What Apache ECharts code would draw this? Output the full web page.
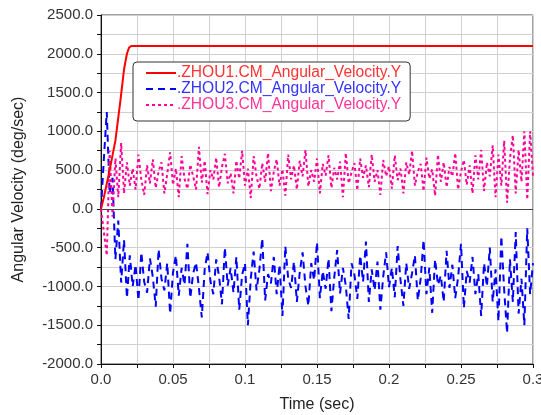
<!DOCTYPE html>
<html>
<head>
<meta charset="utf-8">
<script src="https://cdn.jsdelivr.net/npm/echarts@6/dist/echarts.min.js"></script>
<style>
  html, body { margin: 0; padding: 0; background: #fff; }
  #chart { width: 541px; height: 415px; }
</style>
</head>
<body>
<div id="chart"></div>
<script>
// Series names
const seriesNames = [
  '.ZHOU1.CM_Angular_Velocity.Y',
  '.ZHOU2.CM_Angular_Velocity.Y',
  '.ZHOU3.CM_Angular_Velocity.Y'
];

// ZHOU1: spin-up ramp, then constant speed
const zhou1Time = [0, 0.002, 0.006, 0.010, 0.0135, 0.016, 0.018, 0.0195, 0.020, 0.021, 0.3];
const zhou1Vel  = [0, 150, 500, 880, 1400, 1800, 2000, 2080, 2095, 2100, 2100];

// ZHOU2 / ZHOU3: sampled every 2 ms from 0 to 0.3 s
const sampleStep = 0.002;
const zhou2Vel = [
  0, 650, 1250, 200, 400, -650, -150, -950, -400, -1150, -600,
  -1000, -720, -1180, -560, -940, -1080, -640, -880, -1260, -520,
  -900, -1050, -700, -1350, -820, -600, -1120, -760, -980, -450,
  -1150, -830, -690, -1020, -1400, -780, -560, -930, -1100, -650,
  -870, -1230, -500, -990, -760, -1080, -620, -1300, -850, -700,
  -1500, -900, -550, -1050, -780, -380, -1180, -840, -960, -620,
  -1100, -720, -1380, -480, -900, -1020, -680, -1200, -820, -560,
  -1000, -1250, -700, -920, -430, -1150, -800, -1030, -640, -1320,
  -880, -530, -1090, -760, -990, -1420, -700, -850, -1160, -600,
  -940, -420, -1200, -780, -1050, -680, -1300, -870, -560, -1010,
  -760, -1140, -480, -920, -1250, -700, -1030, -830, -600, -1180,
  -900, -400, -1100, -760, -1340, -650, -980, -860, -1200, -540,
  -1020, -720, -1150, -880, -450, -1280, -800, -950, -620, -1100,
  -840, -1380, -700, -1000, -500, -1200, -780, -1450, -350, -1050,
  -1600, -650, -1200, -300, -1350, -900, -1500, -250, -1100, -700
];
const zhou3Vel = [
  0, -300, -600, 750, -100, 650, 150, 850, 200, 600, 300,
  520, 250, 700, 380, 180, 560, 330, 640, 270, 480,
  600, 200, 450, 730, 310, 520, 150, 680, 390, 260,
  570, 420, 250, 800, 340, 620, 190, 500, 380, 660,
  280, 540, 710, 330, 460, 200, 620, 390, 750, 300,
  520, 140, 680, 420, 260, 590, 350, 720, 230, 480,
  640, 300, 510, 170, 700, 380, 560, 250, 620, 420,
  760, 290, 500, 350, 650, 200, 580, 430, 690, 270,
  530, 380, 610, 150, 720, 330, 470, 590, 240, 650,
  400, 560, 280, 700, 350, 500, 180, 630, 420, 550,
  260, 690, 370, 520, 200, 600, 440, 750, 300, 480,
  580, 230, 660, 390, 510, 170, 700, 350, 600, 280,
  540, 420, 720, 250, 480, 630, 310, 560, 200, 690,
  380, 760, 230, 600, 420, 820, 150, 700, 300, 880,
  80, 650, 950, 200, 760, 350, 1000, 120, 1000, 420
];

// Axis ranges and label steps
const xMin = 0, xMax = 0.3, xStep = 0.025, xLabelStep = 0.05;
const yMin = -2000, yMax = 2500, yStep = 250, yLabelStep = 500;

const colors = ['#ff0000', '#0000ff', '#ff0099'];
const textColors = ['#ff3333', '#3333ff', '#ff3399'];

const pair = (ts, vs) => vs.map((v, i) => [ts[i], v]);
const sampled = vs => vs.map((v, i) => [+(i * sampleStep).toFixed(4), v]);

const fontFamily = '"Liberation Sans", Arial, sans-serif';

const chart = echarts.init(document.getElementById('chart'), null, { renderer: 'canvas' });

chart.setOption({
  animation: false,
  backgroundColor: '#ffffff',
  textStyle: { fontFamily },
  grid: {
    left: 101, right: 8, top: 15, bottom: 51,
    outerBoundsMode: 'none', containLabel: false,
    show: true, borderColor: '#444', borderWidth: 1, backgroundColor: 'transparent'
  },
  legend: {
    orient: 'vertical',
    left: 133, top: 62,
    padding: [3, 9, 8, 12],
    itemWidth: 30, itemHeight: 14, itemGap: 0,
    backgroundColor: '#ffffff',
    borderColor: '#333', borderWidth: 1, borderRadius: 4,
    itemStyle: { opacity: 0 },
    textStyle: { fontSize: 15.6, lineHeight: 16, fontFamily, padding: [0, 0, 0, -4] },
    data: seriesNames.map((n, i) => ({ name: n, textStyle: { color: textColors[i] } }))
  },
  xAxis: {
    type: 'value', min: xMin, max: xMax, interval: xStep,
    name: 'Time (sec)', nameLocation: 'middle', nameGap: 33,
    nameTextStyle: { fontSize: 16, color: '#222' },
    axisLine: { show: true, onZero: false, lineStyle: { color: '#111' } },
    axisTick: { show: true, inside: false, length: 4, lineStyle: { color: '#111' } },
    axisLabel: {
      fontSize: 15, color: '#333', margin: 8,
      formatter: v => {
        const k = Math.round(v * 1000);
        if (k % Math.round(xLabelStep * 1000) !== 0) return '';
        if (k === 0) return '0.0';
        return String(k / 1000);
      }
    },
    splitLine: { show: true, lineStyle: { color: '#d0d0d0', width: 1 } }
  },
  yAxis: {
    type: 'value', min: yMin, max: yMax, interval: yStep,
    name: 'Angular Velocity (deg/sec)', nameLocation: 'middle', nameGap: 74,
    nameTextStyle: { fontSize: 16, color: '#222' },
    axisLine: { show: true, onZero: false, lineStyle: { color: '#111' } },
    axisTick: { show: true, inside: false, length: 4, lineStyle: { color: '#111' } },
    axisLabel: {
      fontSize: 15, color: '#333', margin: 8,
      formatter: v => (Math.round(v) % yLabelStep === 0 ? v.toFixed(1) : '')
    },
    splitLine: { show: true, lineStyle: { color: '#d0d0d0', width: 1 } }
  },
  series: [
    {
      name: seriesNames[0], type: 'line', symbol: 'none',
      data: pair(zhou1Time, zhou1Vel), z: 5,
      lineStyle: { color: colors[0], width: 2 }, itemStyle: { color: colors[0] },
      markLine: {
        silent: true, symbol: 'none', label: { show: false },
        lineStyle: { color: '#444', width: 1, type: 'solid' },
        data: [{ yAxis: 0 }]
      }
    },
    {
      name: seriesNames[1], type: 'line', symbol: 'none',
      data: sampled(zhou2Vel), z: 3,
      lineStyle: { color: colors[1], width: 2, type: [7, 5] }, itemStyle: { color: colors[1] }
    },
    {
      name: seriesNames[2], type: 'line', symbol: 'none',
      data: sampled(zhou3Vel), z: 4,
      lineStyle: { color: colors[2], width: 2, type: [3, 3] }, itemStyle: { color: colors[2] }
    }
  ]
});
</script>
</body>
</html>
